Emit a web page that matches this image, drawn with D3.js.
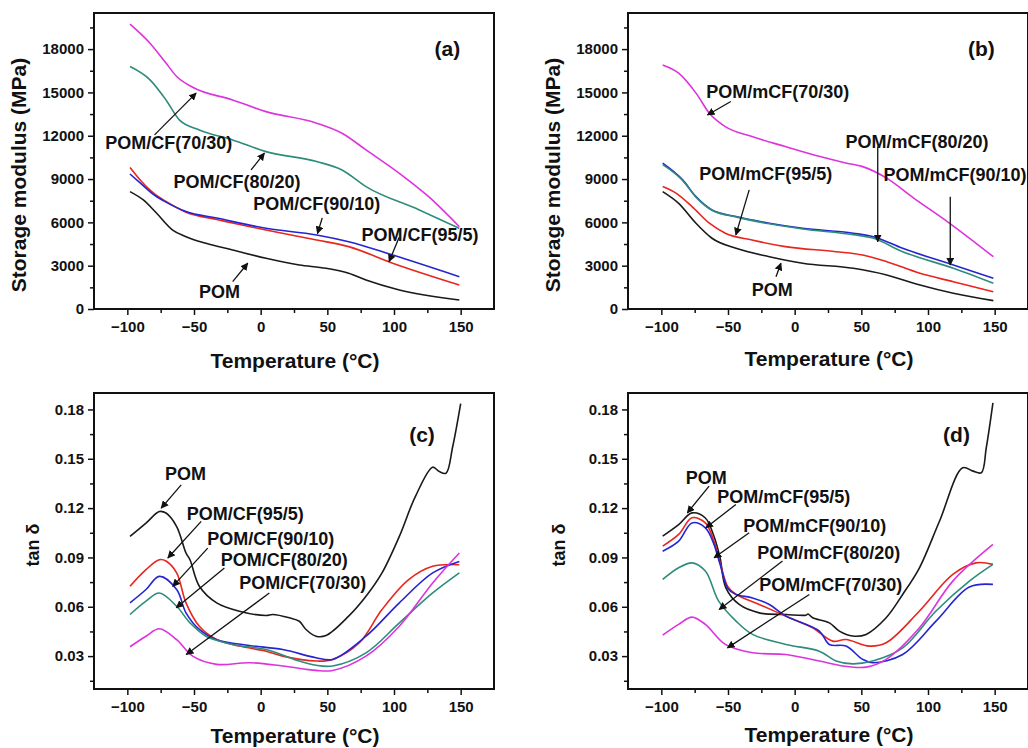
<!DOCTYPE html>
<html>
<head>
<meta charset="UTF-8">
<title>Storage modulus and tan delta</title>
<style>
  body { margin: 0; background: #fff; }
  text { font-family: "Liberation Sans", Arial, sans-serif; font-weight: bold; fill: #111; }
</style>
</head>
<body>
<svg id="chart" width="1028" height="748"></svg>
<script src="https://d3js.org/d3.v7.min.js"></script>
<script>

// ---- data: [temperature (°C), value] ----

// (a) storage modulus, POM/CF
var aPOM  = [[-98,8130],[-88,7550],[-78,6630],[-66,5470],[-56,5010],[-41,4550],[-21,4090],[4,3510],[29,3050],[49,2820],[66,2470],[79,2010],[104,1320],[149,620]];
var aCF95 = [[-98,9800],[-90,8900],[-80,8000],[-71,7450],[-56,6700],[-33,6200],[4,5470],[42,4780],[66,4320],[99,3170],[149,1660]];
var aCF90 = [[-98,9350],[-90,8700],[-80,7900],[-71,7400],[-56,6750],[-33,6300],[4,5590],[42,5130],[66,4660],[99,3740],[149,2240]];
var aCF80 = [[-98,16790],[-83,15870],[-71,14480],[-61,13100],[-46,12400],[-21,11710],[4,10900],[42,10210],[61,9630],[79,8480],[119,6860],[149,5590]];
var aCF70 = [[-98,19730],[-83,18410],[-71,17030],[-63,16100],[-51,15360],[-21,14480],[4,13670],[42,12870],[61,12170],[79,11020],[104,9400],[126,7780],[149,5700]];

// (b) storage modulus, POM/mCF
var bPOM  = [[-99,8130],[-87,7320],[-74,5940],[-62,4900],[-44,4200],[-19,3620],[6,3170],[44,2820],[69,2360],[94,1660],[119,1090],[149,580]];
var bCF95 = [[-99,8480],[-89,8020],[-77,7090],[-64,5940],[-52,5250],[-32,4780],[-7,4320],[31,3970],[51,3740],[69,3280],[94,2470],[119,1890],[149,1200]];
var bCF90 = [[-99,10100],[-84,8940],[-74,7780],[-62,6860],[-44,6400],[-19,5940],[6,5590],[44,5250],[59,5010],[81,4200],[119,3050],[149,2130]];
var bCF80 = [[-99,10000],[-84,8900],[-74,7750],[-62,6840],[-44,6380],[-19,5900],[6,5540],[44,5150],[59,4900],[81,3970],[119,2820],[149,1780]];
var bCF70 = [[-99,16900],[-87,16330],[-74,14950],[-64,13560],[-52,12630],[-32,11940],[-7,11250],[19,10560],[39,10100],[51,9860],[69,9060],[89,7700],[116,5950],[149,3620]];

// (c) tan delta, POM/CF
var cPOM  = [[-98,0.1028],[-86,0.1109],[-76,0.1179],[-71,0.117],[-63,0.1088],[-56,0.0927],[-53,0.0886],[-46,0.0725],[-33,0.0624],[-16,0.0573],[4,0.0547],[9,0.0553],[21.5,0.0533],[29,0.0512],[34,0.0462],[41.5,0.0421],[49,0.0425],[66,0.0543],[79,0.0664],[91,0.0806],[104,0.1028],[116,0.127],[129,0.1449],[134,0.1422],[139,0.1412],[144,0.1573],[150,0.1836]];
var cCF95 = [[-98,0.0725],[-86,0.0826],[-76,0.0886],[-71,0.0878],[-63,0.0806],[-56,0.0624],[-46,0.0482],[-33,0.0401],[-16,0.0361],[4,0.033],[16.5,0.030],[41.5,0.027],[54,0.028],[74,0.0381],[91,0.0583],[111,0.0765],[129,0.0846],[149,0.0856]];
var cCF90 = [[-98,0.0624],[-86,0.0705],[-76,0.0785],[-63,0.0705],[-56,0.0563],[-46,0.0462],[-33,0.040],[-8.5,0.0365],[16.5,0.034],[41.5,0.029],[54,0.028],[79,0.0421],[104,0.0624],[129,0.0806],[149,0.0876]];
var cCF80 = [[-98,0.0553],[-86,0.0634],[-76,0.0684],[-63,0.0603],[-53,0.0502],[-41,0.0421],[-21,0.0371],[4,0.034],[29,0.027],[41.5,0.0244],[54,0.024],[79,0.032],[104,0.0502],[129,0.0684],[149,0.0806]];
var cCF70 = [[-98,0.0357],[-86,0.0421],[-76,0.0466],[-63,0.040],[-51,0.030],[-33,0.025],[-8.5,0.026],[16.5,0.024],[41.5,0.0213],[54,0.0213],[79,0.030],[104,0.0482],[129,0.0745],[149,0.0927]];

// (d) tan delta, POM/mCF
var dPOM  = [[-99,0.103],[-87,0.110],[-77,0.1171],[-67,0.114],[-61,0.104],[-56,0.090],[-51.6,0.0715],[-41.6,0.0614],[-26.6,0.0563],[-6.5,0.0553],[8.5,0.0549],[10,0.0556],[13.5,0.0533],[26,0.0502],[33.5,0.0452],[43.5,0.0422],[53.6,0.0432],[68.6,0.0533],[81,0.0675],[93.6,0.0837],[108.6,0.112],[126,0.1445],[133.7,0.1425],[140,0.1415],[143.7,0.1567],[148.7,0.184]];
var dCF95 = [[-99,0.0969],[-87,0.104],[-77,0.1141],[-67,0.111],[-61,0.101],[-56,0.087],[-50,0.072],[-44,0.0675],[-26.6,0.0614],[-6.5,0.0543],[13.5,0.0472],[28.5,0.0391],[38.5,0.0401],[56,0.0361],[68.6,0.0381],[93.6,0.0574],[118.6,0.0797],[136,0.0867],[148.7,0.0858]];
var dCF90 = [[-99,0.0938],[-87,0.0999],[-77,0.111],[-67,0.108],[-61,0.099],[-56,0.086],[-50,0.071],[-44,0.0675],[-31.6,0.0654],[-19,0.0614],[-6.5,0.0543],[18.5,0.0452],[26,0.0371],[38.5,0.0361],[51,0.028],[58.5,0.026],[81,0.031],[106,0.0513],[131,0.072],[148.7,0.0736]];
var dCF80 = [[-99,0.0766],[-87,0.0837],[-77,0.0867],[-67,0.0817],[-57,0.0634],[-44,0.0513],[-31.6,0.0432],[-6.5,0.0371],[18.5,0.033],[31,0.027],[43.5,0.0253],[58.5,0.027],[81,0.035],[106,0.0574],[131,0.0756],[148.7,0.0858]];
var dCF70 = [[-99,0.0428],[-87,0.0493],[-77,0.0537],[-67,0.0493],[-52,0.0371],[-31.6,0.032],[-6.5,0.031],[18.5,0.027],[36,0.024],[53.6,0.0233],[68.6,0.028],[93.6,0.0472],[118.6,0.0756],[148.7,0.0979]];

// tick values
var xTicks = [-100, -50, 0, 50, 100, 150];
var xMinor = [-75, -25, 25, 75, 125];
var eTicks = [0, 3000, 6000, 9000, 12000, 15000, 18000];
var eMinor = [1500, 4500, 7500, 10500, 13500, 16500, 19500];
var tTicks = [0.03, 0.06, 0.09, 0.12, 0.15, 0.18];
var tMinor = [0.015, 0.045, 0.075, 0.105, 0.135, 0.165];

// colours: POM, 95/5, 90/10, 80/20, 70/30
var colors = ['#1a1a1a', '#e8251e', '#2424d2', '#2e8c7c', '#dd33dd'];

// label annotations: text, text pos (T, v), arrow from, arrow to
var aNotes = [
  ['POM/CF(70/30)', -69, 11500, [-79.6,12060], [-48.4,14950]],
  ['POM/CF(80/20)', -17.8, 8820, [-7.2,9630], [2.8,10790]],
  ['POM/CF(90/10)', 42, 7320, [46.2,6310], [42.6,5230]],
  ['POM/CF(95/5)', 119.5, 5130, [103.8,4950], [96.3,3280]],
  ['POM', -30.9, 1200, [-21,1890], [-9.7,3170]]
];
var bNotes = [
  ['POM/mCF(70/30)', -12.7, 15060, [-47.9,14370], [-65.4,13440]],
  ['POM/mCF(80/20)', 91.7, 11590, [62.3,11250], [62.3,4660]],
  ['POM/mCF(90/10)', 120.3, 9290, [116.7,7780], [116.7,3050]],
  ['POM/mCF(95/5)', -21.7, 9400, [-34.1,8250], [-44.1,5130]],
  ['POM', -16.8, 1320, [-14,2240], [-10.3,3170]]
];
var cNotes = [
  ['POM', -56.4, 0.1408, [-59.6,0.1341], [-74.6,0.12]],
  ['POM/CF(95/5)', -11.5, 0.117, [-44.6,0.1119], [-69.6,0.0897]],
  ['POM/CF(90/10)', 7.6, 0.1018, [-39.7,0.0957], [-65.9,0.0724]],
  ['POM/CF(80/20)', 17.7, 0.0886, [-27.2,0.0836], [-63.3,0.0594]],
  ['POM/CF(70/30)', 31.6, 0.0745, [6.5,0.0684], [-55.8,0.031]]
];
var dNotes = [
  ['POM', -66.4, 0.1384, [-64.2,0.1334], [-80.5,0.1171]],
  ['POM/mCF(95/5)', -8.2, 0.1273, [-44.1,0.1222], [-66.6,0.108]],
  ['POM/mCF(90/10)', 15.1, 0.1097, [-34.1,0.105], [-60.4,0.0898]],
  ['POM/mCF(80/20)', 25.6, 0.0928, [-9.1,0.0878], [-56.6,0.0584]],
  ['POM/mCF(70/30)', 27.1, 0.0736, [11,0.0675], [-50.4,0.035]]
];

var panels = [
  {tag:'(a)', left:94,  top:13,  yDomain:[0,20500],   major:eTicks, minor:eMinor, fmt:d3.format('d'),   yTitle:'Storage modulus (MPa)', series:[aPOM,aCF95,aCF90,aCF80,aCF70], notes:aNotes, tagAt:[140,18020], xTitleY:51, yTitleX:-76, curve:d3.curveMonotoneX},
  {tag:'(b)', left:628, top:13,  yDomain:[0,20500],   major:eTicks, minor:eMinor, fmt:d3.format('d'),   yTitle:'Storage modulus (MPa)', series:[bPOM,bCF95,bCF90,bCF80,bCF70], notes:bNotes, tagAt:[140,18020], xTitleY:49, yTitleX:-76, curve:d3.curveMonotoneX},
  {tag:'(c)', left:94,  top:393, yDomain:[0.01,0.19], major:tTicks, minor:tMinor, fmt:d3.format('.2f'), yTitle:'tan \u03b4', series:[cPOM,cCF95,cCF90,cCF80,cCF70], notes:cNotes, tagAt:[121,0.1645], xTitleY:46, yTitleX:-61, curve:d3.curveCatmullRom.alpha(0.5)},
  {tag:'(d)', left:628, top:393, yDomain:[0.01,0.19], major:tTicks, minor:tMinor, fmt:d3.format('.2f'), yTitle:'tan \u03b4', series:[dPOM,dCF95,dCF90,dCF80,dCF70], notes:dNotes, tagAt:[121.4,0.1648], xTitleY:45, yTitleX:-69, curve:d3.curveCatmullRom.alpha(0.5)}
];

var W = 400, H = 296;
var svg = d3.select('#chart');

svg.append('defs').append('marker')
  .attr('id', 'arrow')
  .attr('viewBox', '0 0 10 10')
  .attr('refX', 9).attr('refY', 5)
  .attr('markerWidth', 6).attr('markerHeight', 6)
  .attr('orient', 'auto')
  .append('path').attr('d', 'M0,0L10,5L0,10z').attr('fill', '#111');

panels.forEach(function(p) {
  var g = svg.append('g').attr('transform', 'translate(' + p.left + ',' + p.top + ')');
  var x = d3.scaleLinear().domain([-125, 175]).range([0, W]);
  var y = d3.scaleLinear().domain(p.yDomain).range([H, 0]);

  // minor ticks
  g.append('g').call(d3.axisLeft(y).tickValues(p.minor).tickSize(4).tickFormat(''))
    .call(function(s) { s.select('.domain').remove(); });
  g.append('g').attr('transform', 'translate(0,' + H + ')')
    .call(d3.axisBottom(x).tickValues(xMinor).tickSize(4).tickFormat(''))
    .call(function(s) { s.select('.domain').remove(); });

  // major ticks
  g.append('g').call(d3.axisLeft(y).tickValues(p.major).tickSize(6).tickPadding(4).tickFormat(p.fmt))
    .call(function(s) { s.select('.domain').remove(); })
    .selectAll('text').style('font-size', '15px');
  g.append('g').attr('transform', 'translate(0,' + H + ')')
    .call(d3.axisBottom(x).tickValues(xTicks).tickSize(6).tickPadding(6))
    .call(function(s) { s.select('.domain').remove(); })
    .selectAll('text').style('font-size', '15px');
  g.selectAll('.tick line').attr('stroke', '#111').attr('stroke-width', 1.5);

  // curves
  var line = d3.line()
    .x(function(d) { return x(d[0]); })
    .y(function(d) { return y(d[1]); })
    .curve(p.curve);
  g.selectAll('path.curve').data(p.series).enter().append('path')
    .attr('class', 'curve')
    .attr('d', line)
    .attr('fill', 'none')
    .attr('stroke', function(d, i) { return colors[i]; })
    .attr('stroke-width', 1.6);

  // frame
  g.append('rect').attr('width', W).attr('height', H)
    .attr('fill', 'none').attr('stroke', '#111').attr('stroke-width', 2);

  // annotations
  p.notes.forEach(function(n) {
    g.append('line')
      .attr('x1', x(n[3][0])).attr('y1', y(n[3][1]))
      .attr('x2', x(n[4][0])).attr('y2', y(n[4][1]))
      .attr('stroke', '#111').attr('stroke-width', 1.3)
      .attr('marker-end', 'url(#arrow)');
    g.append('text')
      .attr('x', x(n[1])).attr('y', y(n[2]))
      .attr('dy', '0.36em')
      .attr('text-anchor', 'middle')
      .style('font-size', '18px')
      .text(n[0]);
  });

  g.append('text')
    .attr('x', x(p.tagAt[0])).attr('y', y(p.tagAt[1]))
    .attr('dy', '0.36em').attr('text-anchor', 'middle')
    .style('font-size', '21px')
    .text(p.tag);

  // axis titles
  g.append('text')
    .attr('x', W / 2 + 1).attr('y', H + p.xTitleY)
    .attr('dy', '0.36em').attr('text-anchor', 'middle')
    .style('font-size', '21px')
    .text('Temperature (\u00b0C)');

  var isTan = p.yTitle.indexOf('tan') === 0;
  g.append('text')
    .attr('transform', 'translate(' + p.yTitleX + ',' + (isTan ? 152 : 162) + ') rotate(-90)')
    .attr('dy', '0.36em').attr('text-anchor', 'middle')
    .style('font-size', isTan ? '18px' : '21px')
    .text(p.yTitle);
});

</script>
</body>
</html>
